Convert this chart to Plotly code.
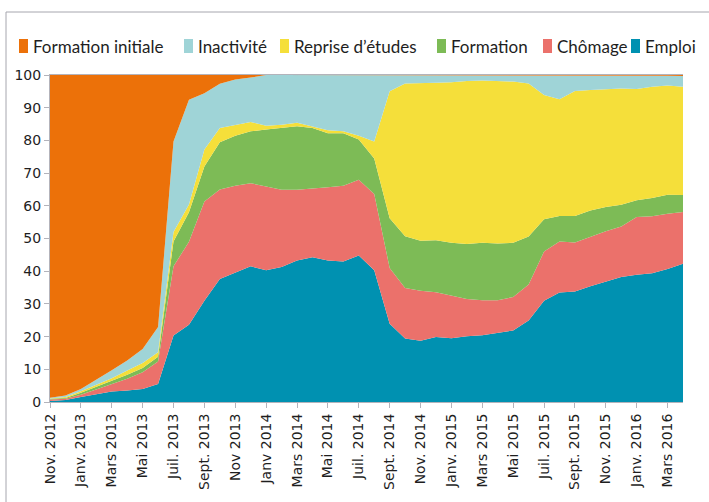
import plotly.graph_objects as go

# Monthly categories, Nov. 2012 -> Avril 2016
months = [
    "Nov. 2012", "Déc. 2012",
    "Janv. 2013", "Févr. 2013", "Mars 2013", "Avril 2013", "Mai 2013", "Juin 2013",
    "Juil. 2013", "Août 2013", "Sept. 2013", "Oct. 2013", "Nov 2013", "Déc. 2013",
    "Janv 2014", "Févr. 2014", "Mars 2014", "Avril 2014", "Mai 2014", "Juin 2014",
    "Juil. 2014", "Août 2014", "Sept. 2014", "Oct. 2014", "Nov. 2014", "Déc. 2014",
    "Janv. 2015", "Févr. 2015", "Mars 2015", "Avril 2015", "Mai 2015", "Juin 2015",
    "Juil. 2015", "Août 2015", "Sept. 2015", "Oct. 2015", "Nov. 2015", "Déc. 2015",
    "Janv. 2016", "Févr. 2016", "Mars 2016", "Avril 2016",
]

# Share of the cohort in each situation (%), stacked bottom -> top
emploi = [0.3, 0.6, 1.5, 2.4, 3.2, 3.5, 4.0, 5.5, 20.3, 23.6, 31.0, 37.6, 39.5, 41.5,
          40.3, 41.3, 43.3, 44.3, 43.3, 43.0, 44.8, 40.3, 23.9, 19.4, 18.7, 19.9,
          19.5, 20.1, 20.4, 21.1, 21.9, 24.9, 31.0, 33.5, 33.8, 35.4, 36.7, 38.2,
          38.9, 39.4, 40.7, 42.3]
chomage = [0.5, 0.4, 0.7, 1.4, 2.1, 3.6, 5.1, 6.9, 21.2, 25.4, 30.3, 27.4, 26.6, 25.4,
           25.6, 23.6, 21.6, 20.9, 22.4, 23.1, 23.2, 23.3, 17.1, 15.5, 15.3, 13.7,
           13.0, 11.4, 10.7, 10.0, 10.2, 11.0, 15.0, 15.6, 15.0, 15.2, 15.5, 15.5,
           17.7, 17.4, 16.9, 15.8]
formation = [0.2, 0.2, 0.6, 0.8, 1.0, 1.2, 1.3, 1.4, 7.6, 9.0, 10.7, 14.4, 15.3, 15.9,
             17.4, 18.9, 19.4, 18.6, 16.5, 16.1, 12.3, 10.9, 15.2, 15.8, 15.3, 15.9,
             16.2, 16.8, 17.6, 17.4, 16.6, 14.7, 9.9, 7.8, 8.1, 8.0, 7.4, 6.6,
             5.1, 5.6, 5.8, 5.2]
reprise_etudes = [0.1, 0.3, 0.5, 0.7, 1.0, 1.3, 1.5, 1.4, 2.9, 2.4, 5.2, 4.4, 3.4, 2.8,
                  1.2, 1.0, 1.1, 0.5, 0.9, 0.6, 1.1, 5.2, 38.8, 46.7, 48.1, 48.1,
                  49.1, 49.9, 49.6, 49.7, 49.3, 46.8, 38.0, 35.7, 38.2, 36.8, 36.1, 35.6,
                  34.0, 34.0, 33.4, 33.1]
inactivite = [0.2, 0.5, 0.7, 1.5, 2.4, 3.1, 4.3, 7.7, 27.7, 32.0, 17.2, 13.5, 13.8, 13.6,
              15.5, 15.2, 14.6, 15.7, 16.9, 17.2, 18.6, 20.3, 5.0, 2.6, 2.6, 2.4,
              2.2, 1.8, 1.7, 1.8, 2.0, 2.6, 6.1, 7.4, 4.9, 4.6, 4.3, 4.1,
              4.3, 3.6, 3.0, 3.3]
formation_initiale = [98.7, 98.0, 96.0, 93.2, 90.3, 87.3, 83.8, 77.1, 20.3, 7.6, 5.6, 2.7, 1.4, 0.8,
                      0, 0, 0, 0, 0, 0, 0, 0, 0, 0, 0, 0,
                      0, 0, 0, 0, 0, 0, 0, 0, 0, 0, 0, 0,
                      0, 0, 0.2, 0.3]

series = [
    ("Emploi", emploi, "#0091b1"),
    ("Chômage", chomage, "#eb716b"),
    ("Formation", formation, "#7dbb56"),
    ("Reprise d\u2019études", reprise_etudes, "#f5df3a"),
    ("Inactivité", inactivite, "#9fd4d7"),
    ("Formation initiale", formation_initiale, "#ec7109"),
]

tick_months = months[::2]

fig = go.Figure()
for name, values, color in series:
    fig.add_trace(go.Scatter(
        x=months, y=values, name=name, mode="lines",
        stackgroup="parcours", line=dict(width=0, color=color),
        fillcolor=color, showlegend=False, hoverinfo="x+y+name",
    ))

W, H = 709, 502
ML, MR, MT, MB = 50, 26, 75, 100
PW, PH = W - ML - MR, H - MT - MB


def px(x):
    return (x - ML) / PW


def py(y):
    return (H - MB - y) / PH


axis_grey = "#b3b3bb"
text_col = "#1e1e1e"

shapes = [
    # outer chart frame
    dict(type="rect", xref="paper", yref="paper",
         x0=px(6), x1=px(720), y0=py(520), y1=py(12),
         line=dict(color="#a6a6ae", width=1), fillcolor="rgba(0,0,0,0)", layer="below"),
]
annotations = []

# legend row: swatch + label, ordered as the stack top -> bottom
legend_x = [19, 184, 280, 437, 543, 631]
for (name, _, color), x0 in zip(reversed(series), legend_x):
    shapes.append(dict(type="rect", xref="paper", yref="paper",
                       x0=px(x0), x1=px(x0 + 9), y0=py(53), y1=py(39),
                       line=dict(width=0), fillcolor=color))
    annotations.append(dict(xref="paper", yref="paper", x=px(x0 + 12), y=py(46),
                            text=name, showarrow=False, xanchor="left", yanchor="middle",
                            font=dict(family="Lato", size=17, color=text_col)))

fig.update_layout(
    width=W, height=H,
    margin=dict(l=ML, r=MR, t=MT, b=MB, pad=0),
    paper_bgcolor="white", plot_bgcolor="white",
    shapes=shapes, annotations=annotations,
    showlegend=False,
    xaxis=dict(
        type="category", categoryorder="array", categoryarray=months,
        range=[0, len(months) - 1],
        tickmode="array", tickvals=tick_months, ticktext=tick_months,
        tickangle=-90, ticks="outside", ticklen=5, tickcolor=axis_grey,
        showline=True, linecolor=axis_grey, linewidth=1, mirror=True,
        showgrid=False, zeroline=False,
        tickfont=dict(family="DejaVu Sans", size=14, color=text_col),
    ),
    yaxis=dict(
        range=[0, 100], tickmode="linear", tick0=0, dtick=10,
        ticks="outside", ticklen=5, tickcolor=axis_grey,
        showline=True, linecolor=axis_grey, linewidth=1,
        showgrid=False, zeroline=False,
        tickfont=dict(family="DejaVu Sans", size=14, color=text_col),
    ),
)

fig.write_html("out.html")
